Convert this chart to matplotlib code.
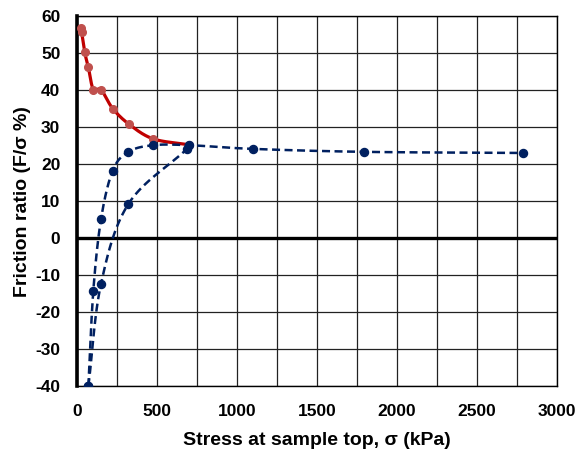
import numpy as np
import matplotlib
matplotlib.use("Agg")
import matplotlib.pyplot as plt

plt.rcParams['font.family'] = ['Liberation Sans', 'DejaVu Sans']

# Red series (solid)
red_x = [23, 29, 48, 71, 102, 150, 223, 327, 477, 702]
red_y = [56.7, 55.6, 50.2, 46.1, 40.1, 40.1, 35.0, 30.7, 26.8, 25.2]

# Blue series, outer (loading) path
blue1_x = [71, 102, 150, 223, 321, 477, 702, 1098, 1794, 2790]
blue1_y = [-40, -14.2, 5.1, 18.2, 23.3, 25.1, 25.1, 24.1, 23.3, 23.0]

# Blue series, inner path
blue2_x = [71, 150, 321, 685]
blue2_y = [-40, -12.4, 9.2, 24.0]

xticks = [0, 500, 1000, 1500, 2000, 2500, 3000]
yticks = [-40, -30, -20, -10, 0, 10, 20, 30, 40, 50, 60]


def smooth(xs, ys, n=30):
    x = np.asarray(xs, float)
    y = np.asarray(ys, float)
    sx = 3000.0
    sy = 100.0 * 480 / 370
    P = np.column_stack([x / sx, y / sy])
    P = np.vstack([P[0] + (P[0] - P[1]), P, P[-1] + (P[-1] - P[-2])])
    out = []
    for i in range(1, len(P) - 2):
        p0, p1, p2, p3 = P[i - 1], P[i], P[i + 1], P[i + 2]
        t = np.linspace(0, 1, n)[:, None]
        seg = 0.5 * ((2 * p1) + (-p0 + p2) * t + (2 * p0 - 5 * p1 + 4 * p2 - p3) * t ** 2
                     + (-p0 + 3 * p1 - 3 * p2 + p3) * t ** 3)
        out.append(seg)
    S = np.vstack(out)
    return S[:, 0] * sx, S[:, 1] * sy


fig = plt.figure(figsize=(5.79, 4.57), dpi=100)
ax = fig.add_axes([0.133, 0.155, 0.829, 0.81])

ax.set_xlim(0, 3000)
ax.set_ylim(-40, 60)
ax.set_xticks(xticks)
ax.set_xticks(np.arange(0, 3001, 250), minor=True)
ax.set_yticks(yticks)
ax.grid(True, which='both', axis='x', color='#222222', lw=0.9)
ax.grid(True, which='major', axis='y', color='#222222', lw=0.9)
ax.tick_params(which='both', length=0)
ax.set_axisbelow(True)
ax.axhline(0, color='black', lw=2.4, zorder=2)

for s in ax.spines.values():
    s.set_color('black')
    s.set_linewidth(1.0)
ax.spines['left'].set_linewidth(2.6)

rx, ry = smooth(red_x, red_y)
ax.plot(rx, ry, color='#C00000', lw=2.3, zorder=3)
ax.plot(red_x, red_y, 'o', color='#C0504D', ms=5.5, zorder=4)

navy = '#002060'
bx, by = smooth(blue1_x, blue1_y)
ax.plot(bx, by, color=navy, lw=1.8, ls=(0, (3.2, 1.8)), zorder=5)
bx2, by2 = smooth(blue2_x, blue2_y)
ax.plot(bx2, by2, color=navy, lw=1.8, ls=(0, (3.2, 1.8)), zorder=5)
ax.plot(blue1_x, blue1_y, 'o', color=navy, ms=5.8, zorder=6)
ax.plot(blue2_x, blue2_y, 'o', color=navy, ms=5.8, zorder=6)

ax.set_xticklabels([str(v) for v in xticks], fontsize=12.5, fontweight='bold')
ax.set_yticklabels([str(v) for v in yticks], fontsize=12.5, fontweight='bold')
ax.tick_params(axis='x', pad=13)
ax.tick_params(axis='y', pad=12)
ax.set_xlabel('Stress at sample top, σ (kPa)', fontsize=14, fontweight='bold', labelpad=9)
ax.set_ylabel('Friction ratio (F/σ %)', fontsize=14, fontweight='bold', labelpad=3)

fig.savefig('out.png', dpi=100)
